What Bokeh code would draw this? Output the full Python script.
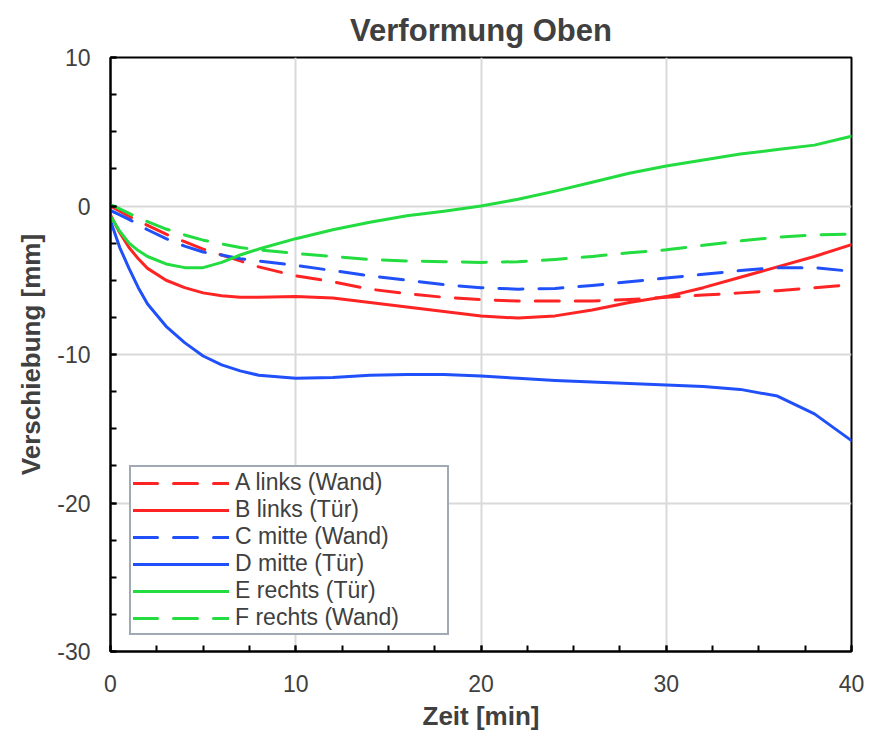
from bokeh.plotting import figure
from bokeh.models import Range1d, FixedTicker, Legend, LegendItem
from bokeh.embed import file_html
from bokeh.resources import INLINE

# Time axis [min]
t = [0, 0.5, 1, 1.5, 2, 3, 4, 5, 6, 7, 8, 10, 12, 14, 16, 18, 20, 22, 24, 26, 28, 30, 32, 34, 36, 38, 40]

# Displacement [mm] per measuring point
a_links_wand = [0.0, -0.35, -0.7, -1.0, -1.3, -1.9, -2.4, -2.9, -3.3, -3.7, -4.1, -4.7, -5.1, -5.6, -5.9,
                -6.15, -6.3, -6.4, -6.4, -6.4, -6.3, -6.15, -6.0, -5.85, -5.7, -5.5, -5.3]
b_links_tuer = [-0.6, -1.8, -2.8, -3.55, -4.2, -5.0, -5.5, -5.85, -6.05, -6.15, -6.15, -6.1, -6.2, -6.5,
                -6.8, -7.1, -7.4, -7.55, -7.4, -7.0, -6.5, -6.1, -5.5, -4.8, -4.1, -3.4, -2.6]
c_mitte_wand = [-0.3, -0.6, -0.9, -1.25, -1.6, -2.2, -2.7, -3.1, -3.3, -3.55, -3.7, -4.0, -4.35, -4.7,
                -5.0, -5.3, -5.5, -5.6, -5.55, -5.35, -5.1, -4.85, -4.6, -4.35, -4.15, -4.15, -4.4]
d_mitte_tuer = [-1.0, -2.8, -4.2, -5.5, -6.6, -8.1, -9.2, -10.1, -10.7, -11.1, -11.4, -11.6, -11.55,
                -11.4, -11.35, -11.35, -11.45, -11.6, -11.75, -11.85, -11.95, -12.05, -12.15, -12.35,
                -12.8, -14.0, -15.8]
e_rechts_tuer = [-0.7, -1.7, -2.5, -3.0, -3.4, -3.9, -4.15, -4.15, -3.8, -3.3, -2.9, -2.2, -1.6, -1.1,
                 -0.65, -0.35, 0.0, 0.45, 1.0, 1.6, 2.2, 2.7, 3.1, 3.5, 3.8, 4.1, 4.7]
f_rechts_wand = [0.1, -0.2, -0.5, -0.8, -1.05, -1.55, -1.95, -2.3, -2.55, -2.8, -2.95, -3.2, -3.4, -3.6,
                 -3.7, -3.75, -3.8, -3.75, -3.6, -3.4, -3.15, -2.95, -2.65, -2.35, -2.1, -1.95, -1.9]

series_labels = ["A links (Wand)", "B links (Tür)", "C mitte (Wand)",
                 "D mitte (Tür)", "E rechts (Tür)", "F rechts (Wand)"]

x_ticks = [0, 10, 20, 30, 40]
x_tick_labels = ["0", "10", "20", "30", "40"]
y_ticks = [-30, -20, -10, 0, 10]
y_tick_labels = ["-30", "-20", "-10", "0", "10"]

RED = "#ff2424"
BLUE = "#2050fa"
GREEN = "#22dc40"
TEXT = "#404040"
FONT = "Liberation Sans"
DASH = "24 16"

p = figure(width=869, height=736, x_range=Range1d(0, 40), y_range=Range1d(-30, 10),
           output_backend="svg", toolbar_location=None,
           min_border_left=110, min_border_right=18, min_border_top=57, min_border_bottom=85)

p.title.text = "Verformung Oben"
p.title.align = "center"
p.title.text_font = FONT
p.title.text_font_size = "31px"
p.title.text_font_style = "bold"
p.title.text_color = TEXT
p.title.text_line_height = 0.6
p.title.standoff = 19

p.outline_line_color = "black"
p.outline_line_width = 2
p.background_fill_color = "white"
p.border_fill_color = "white"

for ax in (p.xaxis[0], p.yaxis[0]):
    ax.axis_line_color = "black"
    ax.axis_line_width = 2
    ax.major_tick_in = 6
    ax.major_tick_out = 0
    ax.minor_tick_in = 6
    ax.minor_tick_out = 0
    ax.major_tick_line_color = "black"
    ax.minor_tick_line_color = "black"
    ax.major_tick_line_width = 2
    ax.minor_tick_line_width = 2
    ax.major_label_text_font = FONT
    ax.major_label_text_font_size = "23px"
    ax.major_label_text_color = TEXT
    ax.axis_label_text_font = FONT
    ax.axis_label_text_font_size = "26px"
    ax.axis_label_text_font_style = "bold"
    ax.axis_label_text_color = TEXT

p.xaxis.ticker = FixedTicker(ticks=x_ticks, minor_ticks=[i * 2.5 for i in range(17)])
p.yaxis.ticker = FixedTicker(ticks=y_ticks, minor_ticks=[-30 + i * 2.5 for i in range(17)])
p.xaxis.major_label_overrides = dict(zip(x_ticks, x_tick_labels))
p.yaxis.major_label_overrides = dict(zip(y_ticks, y_tick_labels))
p.xaxis.axis_label = "Zeit [min]"
p.yaxis.axis_label = "Verschiebung [mm]"
p.xaxis.major_label_standoff = 23
p.yaxis.major_label_standoff = 20
p.xaxis.axis_label_standoff = 6
p.yaxis.axis_label_standoff = 8

p.grid.grid_line_color = "#d9d9d9"
p.grid.grid_line_width = 2

styles = [
    (a_links_wand, RED, DASH),
    (b_links_tuer, RED, "solid"),
    (c_mitte_wand, BLUE, DASH),
    (d_mitte_tuer, BLUE, "solid"),
    (e_rechts_tuer, GREEN, "solid"),
    (f_rechts_wand, GREEN, DASH),
]

items = []
for (vals, color, dash), label in zip(styles, series_labels):
    r = p.line(t, vals, line_color=color, line_width=3, line_dash=dash,
               line_cap="round", line_join="round")
    items.append(LegendItem(label=label, renderers=[r]))

legend = Legend(items=items, location=(19, 16), margin=0, padding=2, spacing=0,
                glyph_width=96, glyph_height=22, label_height=22, label_width=210,
                label_standoff=6,
                label_text_font=FONT, label_text_font_size="23px", label_text_color=TEXT,
                border_line_color="#44546a", border_line_width=2,
                background_fill_color="white", background_fill_alpha=1.0)
p.add_layout(legend, "center")

open("out.html", "w").write(file_html(p, INLINE))
